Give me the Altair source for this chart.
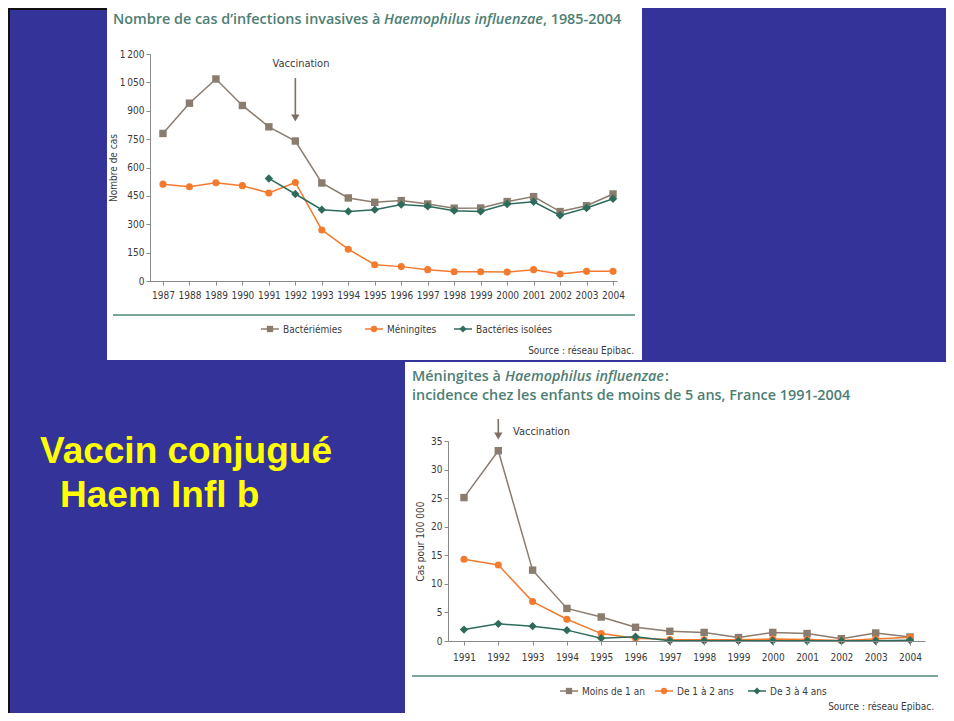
import altair as alt
import pandas as pd

W, H = 938, 705

# ---------------- data ----------------
years_top = list(range(1987, 2005))
bacteriemies = [780, 940, 1068, 928, 815, 740, 518, 439, 416, 425, 407, 385, 386, 420, 446, 367, 398, 460]
meningites = [512, 498, 519, 504, 465, 521, 270, 168, 86, 76, 60, 49, 49, 47, 60, 37, 51, 51]
years_iso = list(range(1991, 2005))
bacteries_isolees = [542, 460, 377, 368, 377, 404, 395, 372, 368, 407, 419, 347, 386, 435]
top_yticks = [0, 150, 300, 450, 600, 750, 900, 1050, 1200]

years_bot = list(range(1991, 2005))
moins_1_an = [25.1, 33.3, 12.4, 5.7, 4.2, 2.4, 1.7, 1.5, 0.6, 1.5, 1.3, 0.4, 1.4, 0.7]
de_1_a_2 = [14.3, 13.3, 6.9, 3.8, 1.3, 0.5, 0.25, 0.2, 0.2, 0.35, 0.25, 0.1, 0.35, 0.65]
de_3_a_4 = [2.0, 3.0, 2.6, 1.9, 0.5, 0.75, 0.05, 0.05, 0.05, 0.05, 0.05, 0.05, 0.05, 0.15]
bot_yticks = [0, 5, 10, 15, 20, 25, 30, 35]

vaccination_year = [1992]

# ---------------- styles ----------------
BLUE = "#333399"
GRAY = "#8a7c6e"
ORANGE = "#f47a2e"
TEAL = "#2e6b5c"
TITLE_C = "#4d7e73"
RULE_C = "#4f8878"
TXT = "#3a3a3a"
COND = "DejaVu Sans Condensed, sans-serif"
HUM = "Open Sans, Lato, sans-serif"
TS = 14.4


def one():
    return alt.Chart(pd.DataFrame({"k": [0]}))


def text(x, y, s, size=11, font=COND, color=TXT, align="left", baseline="alphabetic",
         weight="normal", style="normal"):
    return one().mark_text(align=align, baseline=baseline, fontSize=size, font=font,
                           color=color, fontWeight=weight, fontStyle=style).encode(
        x=alt.value(x), y=alt.value(y), text=alt.value(s))


def rect(x1, x2, y1, y2, color="white"):
    return one().mark_rect(color=color).encode(
        x=alt.value(x1), x2=alt.value(x2), y=alt.value(y1), y2=alt.value(y2))


def hrule(x1, x2, y, color, w):
    return one().mark_rule(color=color, strokeWidth=w).encode(
        x=alt.value(x1), x2=alt.value(x2), y=alt.value(y))


def pt(x, y, shape, color, size):
    return one().mark_point(shape=shape, filled=True, size=size, color=color, opacity=1).encode(
        x=alt.value(x), y=alt.value(y))


def legend_item(xl, y, shape, color, size, label):
    return [hrule(xl, xl + 18, y, color, 1.5), pt(xl + 9, y, shape, color, size),
            text(xl + 22, y + 4, label, size=10)]


def xaxis(offset, values, pad):
    return alt.Axis(orient="bottom", offset=offset, values=values, format="d", grid=False,
                    domainColor="#8a8a8a", tickColor="#8a8a8a", tickSize=4,
                    labelFont=COND, labelFontSize=10, labelColor=TXT, labelPadding=pad,
                    labelFlush=False, labelOverlap=False, labelBound=False, title=None,
                    zindex=1)


def yaxis(offset, values, title, pad, expr=None):
    kw = dict(orient="left", offset=offset, values=values, grid=False,
              domainColor="#8a8a8a", tickColor="#8a8a8a", tickSize=4,
              labelFont=COND, labelFontSize=10, labelColor=TXT, labelPadding=2,
              labelFlush=False, labelOverlap=False, labelBound=False,
              title=title, titleFont=COND, titleFontSize=10, titleFontWeight="normal",
              titleColor=TXT, titlePadding=pad, zindex=1)
    if expr:
        kw["labelExpr"] = expr
    return alt.Axis(**kw)


def series(years, values, xs, ys, xa, ya, color, shape, size):
    df = pd.DataFrame({"year": years, "value": values})
    base = alt.Chart(df).encode(x=alt.X("year:Q", scale=xs, axis=xa),
                                y=alt.Y("value:Q", scale=ys, axis=ya))
    return [base.mark_line(color=color, strokeWidth=1.5),
            base.mark_point(shape=shape, filled=True, size=size, color=color, opacity=1)]


def arrow(xs, xa, y1, y2, ytip):
    df = pd.DataFrame({"year": vaccination_year})
    b = alt.Chart(df)
    return [b.mark_rule(color="#7d7165", strokeWidth=1.6).encode(
                x=alt.X("year:Q", scale=xs, axis=xa), y=alt.value(y1), y2=alt.value(y2)),
            b.mark_point(shape="triangle-down", filled=True, size=70, color="#7d7165", opacity=1).encode(
                x=alt.X("year:Q", scale=xs, axis=xa), y=alt.value(ytip))]


# ---------------- top panel ----------------
xs_top = alt.Scale(domain=[1986.51, 2004.15], range=[142, 609], nice=False, zero=False)
ys_top = alt.Scale(domain=[0, 1200], range=[273, 46], nice=False, zero=False)
xa_top = xaxis(273 - H, years_top, 5)
ya_top = yaxis(-142, top_yticks, "Nombre de cas", 1,
               "replace(format(datum.value, ','), ',', '\u2009')")

top_layers = (series(years_top, bacteriemies, xs_top, ys_top, xa_top, ya_top, GRAY, "square", 55)
              + series(years_top, meningites, xs_top, ys_top, xa_top, ya_top, ORANGE, "circle", 50)
              + series(years_iso, bacteries_isolees, xs_top, ys_top, xa_top, ya_top, TEAL, "diamond", 70)
              + arrow(xs_top, xa_top, 70, 107, 110))
top_group = alt.layer(*top_layers)

# ---------------- bottom panel ----------------
xs_bot = alt.Scale(domain=[1990.534, 2004.437], range=[440, 917], nice=False, zero=False)
ys_bot = alt.Scale(domain=[0, 35], range=[633, 433], nice=False, zero=False)
xa_bot = xaxis(633 - H, years_bot, 7)
ya_bot = yaxis(-440, bot_yticks, "Cas pour 100 000", 5)

bot_layers = (series(years_bot, moins_1_an, xs_bot, ys_bot, xa_bot, ya_bot, GRAY, "square", 55)
              + series(years_bot, de_1_a_2, xs_bot, ys_bot, xa_bot, ya_bot, ORANGE, "circle", 50)
              + series(years_bot, de_3_a_4, xs_bot, ys_bot, xa_bot, ya_bot, TEAL, "diamond", 70)
              + arrow(xs_bot, xa_bot, 411, 425, 428))
bot_group = alt.layer(*bot_layers)

# ---------------- decorations ----------------
back = [rect(0, 99, 0, 2, "#111111"), rect(0, 2, 0, 705, "#111111"),
        rect(99, 634, -3, 352), rect(397, 938, 354, 713)]

deco = [
    # top panel
    text(105, 16, "Nombre de cas d\u2019infections invasives \u00e0 ", TS, HUM, TITLE_C, weight=600),
    text(376, 16, "Haemophilus influenzae", TS, HUM, TITLE_C, weight=600, style="italic"),
    text(535, 16, ", 1985-2004", TS, HUM, TITLE_C, weight=600),
    text(293, 56, "Vaccination", 11, align="center", baseline="middle"),
    hrule(105, 627, 307, RULE_C, 1.5),
    text(626, 346, "Source : r\u00e9seau Epibac.", 10, align="right"),
    # bottom panel
    text(404, 373, "M\u00e9ningites \u00e0 ", TS, HUM, TITLE_C, weight=600),
    text(497, 373, "Haemophilus influenzae", TS, HUM, TITLE_C, weight=600, style="italic"),
    text(657, 373, " :", TS, HUM, TITLE_C, weight=600),
    text(404, 392, "incidence chez les enfants de moins de 5 ans, France 1991-2004", TS, HUM, TITLE_C, weight=600),
    text(505, 424, "Vaccination", 11, baseline="middle"),
    hrule(404, 930, 668, RULE_C, 1.5),
    text(926, 702, "Source : r\u00e9seau Epibac.", 10, align="right"),
    # slide text
    text(32, 455, "Vaccin conjugu\u00e9", 37, "Liberation Sans, Arial, sans-serif", "#ffff00", weight="bold"),
    text(52, 499, "Haem Infl b", 37, "Liberation Sans, Arial, sans-serif", "#ffff00", weight="bold"),
]
deco += legend_item(253, 321, "square", GRAY, 40, "Bact\u00e9ri\u00e9mies")
deco += legend_item(357, 321, "circle", ORANGE, 40, "M\u00e9ningites")
deco += legend_item(446, 321, "diamond", TEAL, 50, "Bact\u00e9ries isol\u00e9es")
deco += legend_item(552, 683, "square", GRAY, 40, "Moins de 1 an")
deco += legend_item(647, 683, "circle", ORANGE, 40, "De 1 \u00e0 2 ans")
deco += legend_item(740, 683, "diamond", TEAL, 50, "De 3 \u00e0 4 ans")

chart = alt.layer(*back, top_group, bot_group, *deco).resolve_scale(
    x="independent", y="independent"
).properties(
    width=W, height=H, padding=0, autosize=alt.AutoSizeParams(type="none"),
    background=BLUE,
).configure_view(stroke="transparent", fill=BLUE)

chart.save("out.html", embed_options={"renderer": "svg", "actions": False})
